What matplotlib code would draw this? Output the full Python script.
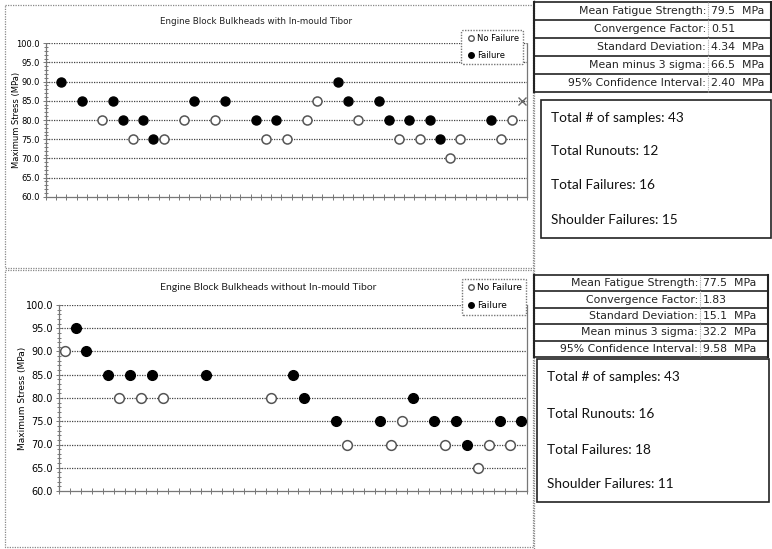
import matplotlib
matplotlib.use("Agg")
import matplotlib.pyplot as plt
from matplotlib.lines import Line2D
from matplotlib.patches import Rectangle

W, H = 772, 549

# top chart: with in-mould Tibor (47 sample slots)
top_n = 47
top_fail_x = [1, 3, 6, 7, 9, 10, 14, 17, 20, 22, 28, 29, 32, 33, 35, 37, 38, 43]
top_fail_y = [90, 85, 85, 80, 80, 75, 85, 85, 80, 80, 90, 85, 85, 80, 80, 80, 75, 80]
top_ok_x = [5, 8, 11, 13, 16, 21, 23, 25, 26, 30, 34, 36, 39, 40, 44, 45]
top_ok_y = [80, 75, 75, 80, 80, 75, 75, 80, 85, 80, 75, 75, 70, 75, 75, 80]
top_next_x = [46]
top_next_y = [85]

# bottom chart: without in-mould Tibor (43 sample slots)
bot_n = 43
bot_fail_x = [1, 2, 4, 6, 8, 13, 21, 22, 25, 29, 32, 34, 36, 37, 40, 42]
bot_fail_y = [95, 90, 85, 85, 85, 85, 85, 80, 75, 75, 80, 75, 75, 70, 75, 75]
bot_ok_x = [0, 5, 7, 9, 19, 26, 30, 31, 35, 38, 39, 41]
bot_ok_y = [90, 80, 80, 80, 80, 70, 70, 75, 70, 65, 70, 70]

yticks = [60, 65, 70, 75, 80, 85, 90, 95, 100]

top_stats = ["Mean Fatigue Strength:", "Convergence Factor:", "Standard Deviation:",
             "Mean minus 3 sigma:", "95% Confidence Interval:"]
top_stat_vals = ["79.5  MPa", "0.51", "4.34  MPa", "66.5  MPa", "2.40  MPa"]
bot_stat_vals = ["77.5  MPa", "1.83", "15.1  MPa", "32.2  MPa", "9.58  MPa"]
top_counts = ["Total # of samples: 43", "Total Runouts: 12", "Total Failures: 16",
              "Shoulder Failures: 15"]
bot_counts = ["Total # of samples: 43", "Total Runouts: 16", "Total Failures: 18",
              "Shoulder Failures: 11"]


def px(x0, y0, x1, y1):
    return [x0 / W, 1 - y1 / H, (x1 - x0) / W, (y1 - y0) / H]


fig = plt.figure(figsize=(W / 100, H / 100), dpi=100)

bg = fig.add_axes([0, 0, 1, 1], zorder=-1)
bg.set_xlim(0, W)
bg.set_ylim(H, 0)
bg.axis("off")

dot = dict(color="#888888", lw=0.9, ls=(0, (1, 1)))
bg.add_patch(Rectangle((5, 5), 528, 263, fill=False, **dot))
bg.add_patch(Rectangle((5, 270), 528, 277, fill=False, **dot))
bg.plot([534, 534], [0, H], **dot)


def draw_chart(rect, n, fx, fy, ox, oy, title, tx, ty, tsize, tfam, ms):
    ax = fig.add_axes(rect)
    ax.set_xlim(-0.5, n - 0.5)
    ax.set_ylim(60, 100)
    ax.set_yticks(yticks)
    ax.set_yticks(range(60, 101), minor=True)
    ax.set_yticklabels(["%.1f" % v for v in yticks])
    ax.set_xticks([i - 0.5 for i in range(n + 1)])
    ax.set_xticklabels([])
    for y in yticks[1:]:
        ax.axhline(y, color="#444444", lw=0.9, ls=(0, (1, 1)), zorder=1)
    ax.spines["top"].set_visible(False)
    for s in ["left", "bottom", "right"]:
        ax.spines[s].set_color("#777777")
        ax.spines[s].set_linestyle((0, (1, 1)))
        ax.spines[s].set_linewidth(0.9)
    ax.tick_params(axis="both", which="both", direction="inout", color="#777777", width=0.7)
    ax.tick_params(axis="x", length=5)
    ax.tick_params(axis="y", which="major", length=5, labelsize=6, pad=2)
    ax.tick_params(axis="y", which="minor", length=3)
    ax.plot(ox, oy, "o", ms=ms, mfc="white", mec="#555555", mew=1.1, ls="none", zorder=3)
    ax.plot(fx, fy, "o", ms=ms, mfc="black", mec="black", ls="none", zorder=3)
    bg.text(tx, ty, title, ha="center", va="center", fontsize=tsize, family=tfam,
            color="#222222")
    handles = [Line2D([], [], marker="o", ls="none", ms=4, mfc="white", mec="#555555"),
               Line2D([], [], marker="o", ls="none", ms=4, mfc="black", mec="black")]
    return ax, handles


ax1, h1 = draw_chart(px(46, 43.3, 527, 196.7), top_n, top_fail_x, top_fail_y,
                     top_ok_x, top_ok_y, "Engine Block Bulkheads with In-mould Tibor",
                     256, 22, 6.3, "DejaVu Sans", 6.5)
ax1.plot(top_next_x, top_next_y, "x", ms=6, color="#666666", mew=1, zorder=3)
ax1.set_ylabel("Maximum Stress (MPa)", fontsize=6)
ax1.yaxis.set_label_coords(-0.052, 0.5)
leg1 = ax1.legend(h1, ["No Failure", "Failure"], loc="upper left",
                  bbox_to_anchor=(457 / W, 1 - 26 / H), bbox_transform=fig.transFigure,
                  fontsize=6, handletextpad=0.1, handlelength=1.3, labelspacing=0.9,
                  borderpad=0.5, fancybox=True, framealpha=1)
leg1.get_frame().set_edgecolor("#777777")
leg1.get_frame().set_linestyle((0, (1, 1)))

ax2, h2 = draw_chart(px(59.3, 305, 526.7, 491), bot_n, bot_fail_x, bot_fail_y,
                     bot_ok_x, bot_ok_y, "Engine Block Bulkheads without In-mould Tibor",
                     268, 288, 7.5, "Lato", 7)
ax2.set_ylabel("Maximum Stress (MPa)", fontsize=6.5)
ax2.yaxis.set_label_coords(-0.07, 0.5)
for t in ax2.get_yticklabels():
    t.set_fontsize(7)
leg2 = ax2.legend(h2, ["No Failure", "Failure"], loc="upper left",
                  bbox_to_anchor=(457 / W, 1 - 274 / H), bbox_transform=fig.transFigure,
                  fontsize=6.5, handletextpad=0.0, handlelength=1.2, labelspacing=1.0,
                  borderpad=0.5, fancybox=True, framealpha=1)
leg2.get_frame().set_edgecolor("#777777")
leg2.get_frame().set_linestyle((0, (1, 1)))


def draw_table(y0, row_h, x0, x1, xdiv, vals, box, counts, count_y, fs):
    for i, (lab, val) in enumerate(zip(top_stats, vals)):
        yc = y0 + row_h * (i + 0.5)
        bg.text(xdiv - 2, yc, lab, ha="right", va="center", fontsize=fs,
                family="DejaVu Sans", color="#222222")
        bg.text(xdiv + 3, yc, val, ha="left", va="center", fontsize=fs,
                family="DejaVu Sans", color="#222222")
    for i in range(len(vals) + 1):
        y = y0 + row_h * i
        bg.plot([x0, x1], [y, y], color="#222222", lw=1.2)
    bg.plot([x0, x0], [y0, y0 + row_h * len(vals)], color="#222222", lw=1.5)
    bg.plot([x1, x1], [y0, y0 + row_h * len(vals)], color="#222222", lw=1.5)
    bg.plot([xdiv, xdiv], [y0, y0 + row_h * len(vals)], color="#aaaaaa", lw=0.8,
            ls=(0, (1, 1)))
    bx0, by0, bx1, by1 = box
    bg.add_patch(Rectangle((bx0, by0), bx1 - bx0, by1 - by0, fill=False,
                           ec="#222222", lw=1.2))
    for txt, y in zip(counts, count_y):
        bg.text(bx0 + 10, y, txt, ha="left", va="center", fontsize=9.8,
                family="Lato", color="#111111")


draw_table(2, 18, 534, 771, 708, top_stat_vals, (541, 100, 771, 238), top_counts,
           [118, 151, 185, 220], 7.8)
draw_table(275, 16.4, 534, 768, 700, bot_stat_vals, (537, 359, 769, 502), bot_counts,
           [377, 414, 450, 484], 7.8)

fig.savefig("out.png", dpi=100)
